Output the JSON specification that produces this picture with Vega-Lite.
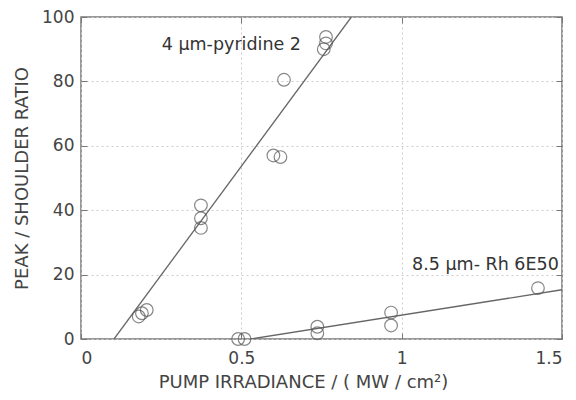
{
  "$schema": "https://vega.github.io/schema/vega-lite/v6.json",
  "autosize": "none",
  "width": 481,
  "height": 322,
  "padding": {"left": 81, "top": 17, "right": 14, "bottom": 61},
  "background": "white",
  "config": {
    "view": {"stroke": "#777", "strokeWidth": 1.5},
    "font": "DejaVu Sans",
    "axis": {
      "labelFont": "DejaVu Sans", "titleFont": "DejaVu Sans",
      "labelFontSize": 17, "titleFontSize": 18, "titleFontWeight": "normal",
      "labelColor": "#444", "titleColor": "#444",
      "grid": true, "gridColor": "#ccc", "gridDash": [2, 3], "gridWidth": 1,
      "domain": false, "tickColor": "#777", "tickSize": -6, "tickWidth": 1
    }
  },
  "resolve": {"scale": {"x": "independent", "y": "independent"}},
  "datasets": {
    "pts": [
      {"x": 0.18, "y": 7, "s": "pyridine"},
      {"x": 0.19, "y": 8, "s": "pyridine"},
      {"x": 0.205, "y": 9, "s": "pyridine"},
      {"x": 0.374, "y": 41.5, "s": "pyridine"},
      {"x": 0.374, "y": 37.5, "s": "pyridine"},
      {"x": 0.374, "y": 34.5, "s": "pyridine"},
      {"x": 0.633, "y": 80.5, "s": "pyridine"},
      {"x": 0.6, "y": 57, "s": "pyridine"},
      {"x": 0.622, "y": 56.5, "s": "pyridine"},
      {"x": 0.764, "y": 93.8, "s": "pyridine"},
      {"x": 0.764, "y": 91.8, "s": "pyridine"},
      {"x": 0.757, "y": 90, "s": "pyridine"},
      {"x": 0.49, "y": 0, "s": "rh"},
      {"x": 0.51, "y": 0, "s": "rh"},
      {"x": 0.737, "y": 3.8, "s": "rh"},
      {"x": 0.737, "y": 1.8, "s": "rh"},
      {"x": 0.967, "y": 8.2, "s": "rh"},
      {"x": 0.967, "y": 4.2, "s": "rh"},
      {"x": 1.425, "y": 15.8, "s": "rh"}
    ],
    "fits": [
      {"x": 0.103, "y": 0, "s": "pyridine"},
      {"x": 0.843, "y": 100, "s": "pyridine"},
      {"x": 0.53, "y": 0, "s": "rh"},
      {"x": 1.5, "y": 15.3, "s": "rh"}
    ],
    "labels": [
      {"x": 0.686, "y": 91.3, "t": "4 μm-pyridine 2"},
      {"x": 1.49, "y": 23, "t": "8.5 μm- Rh 6E50"}
    ]
  },
  "layer": [
    {
      "data": {"name": "fits"},
      "mark": {"type": "line", "color": "#666", "strokeWidth": 1.3, "clip": true},
      "encoding": {
        "x": {"field": "x", "type": "quantitative", "scale": {"domain": [0, 1.5], "nice": false},
          "axis": {"values": [0, 0.5, 1, 1.5], "format": "~g", "title": "PUMP IRRADIANCE  /  ( MW / cm²)", "labelPadding": 17, "titlePadding": 7, "titleX": 222}},
        "y": {"field": "y", "type": "quantitative", "scale": {"domain": [0, 100], "nice": false},
          "axis": {"values": [0, 20, 40, 60, 80, 100], "title": "PEAK / SHOULDER RATIO", "labelPadding": 13, "titlePadding": 10}},
        "detail": {"field": "s"}
      }
    },
    {
      "data": {"name": "pts"},
      "mark": {"type": "point", "shape": "circle", "filled": false, "color": "#555", "size": 160, "strokeWidth": 1.2},
      "encoding": {
        "x": {"field": "x", "type": "quantitative", "scale": {"domain": [0, 1.5], "nice": false}, "axis": null},
        "y": {"field": "y", "type": "quantitative", "scale": {"domain": [0, 100], "nice": false}, "axis": null}
      }
    },
    {
      "data": {"name": "labels"},
      "mark": {"type": "text", "align": "right", "baseline": "middle", "fontSize": 17.5, "color": "#333", "font": "DejaVu Sans"},
      "encoding": {
        "x": {"field": "x", "type": "quantitative", "scale": {"domain": [0, 1.5], "nice": false},
          "axis": {"orient": "top", "values": [0, 0.5, 1, 1.5], "labels": false, "title": null, "grid": false}},
        "y": {"field": "y", "type": "quantitative", "scale": {"domain": [0, 100], "nice": false},
          "axis": {"orient": "right", "values": [0, 20, 40, 60, 80, 100], "labels": false, "title": null, "grid": false}},
        "text": {"field": "t"}
      }
    }
  ]
}
